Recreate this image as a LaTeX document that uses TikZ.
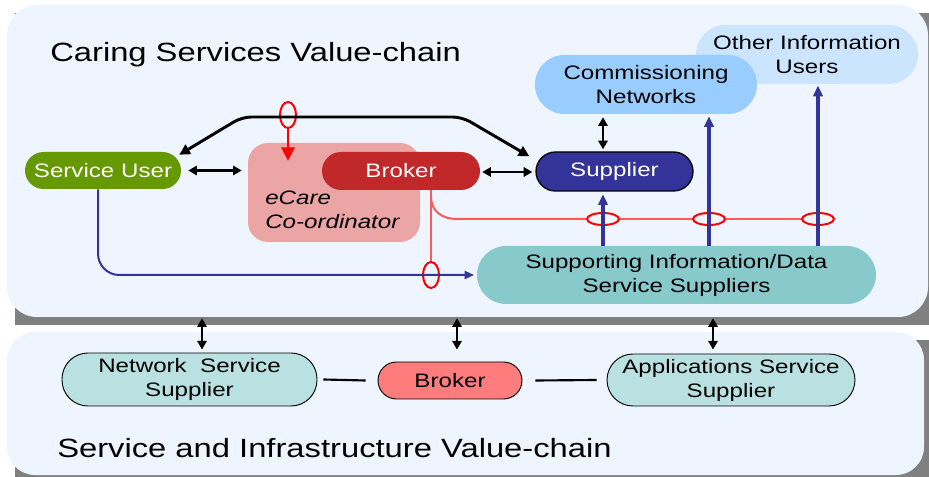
\documentclass[tikz,border=0pt]{standalone}
\usepackage{fontspec}
\setmainfont{Liberation Sans}[FakeStretch=1.24]
\usetikzlibrary{arrows.meta,shapes.geometric,calc}

\definecolor{panelbg}{HTML}{EEF5FE}
\definecolor{shadowgray}{HTML}{808080}
\definecolor{usergreen}{HTML}{669900}
\definecolor{brokerred}{HTML}{C0282A}
\definecolor{ecarepink}{HTML}{ECA5A5}
\definecolor{supplierblue}{HTML}{333399}
\definecolor{commblue}{HTML}{99CCFF}
\definecolor{otherblue}{HTML}{CCE5FF}
\definecolor{supportteal}{HTML}{88CACC}
\definecolor{infrateal}{HTML}{BAE1E1}
\definecolor{brokerpink}{HTML}{FF7C7C}
\definecolor{ringred}{HTML}{FF0000}
\definecolor{linkred}{HTML}{FF5A5A}

\newcommand\boxfont{\fontsize{14.6pt}{18pt}\selectfont}
\newcommand\headfont{\fontsize{19.8pt}{22pt}\selectfont}

\begin{document}
\begin{tikzpicture}[x=0.75pt,y=-0.75pt,
  panel/.style={fill=panelbg, inner sep=0pt},
  pill/.style={rectangle, inner sep=0pt, align=center, font=\boxfont},
  bkarrow/.style={draw=black, line width=1.6pt,
    {Triangle[length=6.5pt,width=7pt]}-{Triangle[length=6.5pt,width=7pt]}},
  bigarrow/.style={draw=black, line width=2.2pt,
    {Triangle[length=8pt,width=8pt]}-{Triangle[length=8pt,width=8pt]}},
  redarrow/.style={draw=ringred, line width=1.8pt,
    -{Triangle[length=10pt,width=10pt]}},
  redline/.style={draw=linkred, line width=1.5pt},
  bluethin/.style={draw=supplierblue, line width=1.5pt,
    -{Triangle[length=7pt,width=6pt]}},
  bluethick/.style={draw=supplierblue, line width=2.4pt,
    -{Triangle[length=8pt,width=7pt]}},
  plainline/.style={draw=black, line width=1.6pt},
  ringv/.style={ellipse, draw=ringred, line width=1.5pt, inner sep=0pt,
    minimum width=12pt, minimum height=19.5pt},
  ringh/.style={ellipse, draw=ringred, line width=1.5pt, inner sep=0pt,
    minimum width=24pt, minimum height=9pt}]
\useasboundingbox (0,0) rectangle (929,477);

% panel shadows
\fill[shadowgray] (15,13) rectangle (936,325);
\fill[shadowgray] (15,340) rectangle (932,483);

% panels
\node[panel, rounded corners=22.5pt, minimum width=690.75pt, minimum height=234pt] (cpanel) at (467.5,161) {};
\node[panel, rounded corners=21pt, minimum width=687.75pt, minimum height=107.25pt] (ipanel) at (465.5,403.5) {};

% headings
\node[anchor=base west, inner sep=0pt, font=\headfont] (chead) at (50,62) {Caring Services Value-chain};
\node[anchor=base west, inner sep=0pt, font=\headfont] (ihead) at (57,457) {Service and Infrastructure Value-chain};

% caring services nodes
\node[pill, fill=otherblue, rounded corners=22pt, minimum width=166.5pt, minimum height=44.25pt] (othr) at (807,54.5) {Other Information\\Users};
\node[pill, fill=commblue, rounded corners=22pt, minimum width=166.5pt, minimum height=44.25pt] (comm) at (646,84.5) {Commissioning\\Networks};
\node[pill, fill=supplierblue, draw=black, line width=1pt, text=white, rounded corners=14.6pt, minimum width=117.75pt, minimum height=29.25pt] (supp) at (614.5,171.5) {Supplier};
\node[rectangle, fill=ecarepink, rounded corners=15pt, minimum width=129pt, minimum height=74.25pt, inner sep=0pt] (ecare) at (334,192.5) {};
\node[anchor=west, align=left, inner sep=0pt, font=\boxfont\itshape] (ecaretxt) at (265,210) {eCare\\Co-ordinator};
\node[pill, fill=brokerred, text=white, rounded corners=14.25pt, minimum width=118.5pt, minimum height=28.5pt] (brok) at (401,171) {Broker};
\node[pill, fill=usergreen, text=white, rounded corners=13.9pt, minimum width=117pt, minimum height=27.75pt] (suser) at (103,170.5) {Service User};
\node[pill, fill=supportteal, rounded corners=21.75pt, minimum width=299.25pt, minimum height=43.5pt] (sisd) at (676.5,275) {Supporting Information/Data\\Service Suppliers};

% infrastructure nodes
\node[pill, fill=infrateal, draw=black, line width=0.7pt, rounded corners=19.5pt, minimum width=191.25pt, minimum height=39.75pt] (nss) at (189.5,379.5) {Network~ Service\\Supplier};
\node[pill, fill=brokerpink, draw=black, line width=0.7pt, rounded corners=13.9pt, minimum width=108pt, minimum height=27.75pt] (brok2) at (450,380.5) {Broker};
\node[pill, fill=infrateal, draw=black, line width=0.7pt, rounded corners=19.5pt, minimum width=186pt, minimum height=39pt] (ass) at (731,380) {Applications Service\\Supplier};

% rings marking monitored flows
\node[ringv] (ell0) at (288,115) {};
\node[ringv] (ell1) at (431,275) {};
\node[ringh] (ell2) at (603,219) {};
\node[ringh] (ell3) at (709,219) {};
\node[ringh] (ell4) at (818,219) {};

% black two-way links
\draw[bkarrow] ($(suser.east)+(7,0)$) -- ($(suser.east -| ecare.west)+(-6,0)$);
\draw[bkarrow] ($(brok.east)+(2,1)$) -- ($(brok.east -| supp.west)+(-3,1)$);
\draw[bkarrow] ($(ell2 |- comm.south)+(0,3)$) -- ($(ell2 |- supp.north)+(0,-2)$);
\coordinate (p1) at (242,117);
\coordinate (p2) at (462,117);
\draw[bigarrow, rounded corners=7pt] ($(suser.north east)+(-2,3)$) -- (p1) -- (p2) -- ($(supp.north west)+(-6,5)$);

% red monitoring links
\draw[redarrow] (ell0.south) -- ($(ell0 |- ecare.north)+(0,18)$);
\draw[redline] (brok.south -| ell1) -- (ell1.north);
\draw[redline] ($(brok.south -| ell1)+(0,6)$) .. controls +(0,16) and +(-14,0) .. ($(ell1 |- ell2)+(26,0)$) -- (ell2.west);
\draw[redline] (ell2.east) -- (ell3.west);
\draw[redline] (ell3.east) -- (ell4.west);

% blue information flows
\coordinate (su0) at ($(suser.south)+(-5,0)$);
\draw[bluethin, rounded corners=16pt, shorten >=2pt] (su0) |- (sisd.west);
\draw[bluethick, shorten >=2pt] (ell2 |- sisd.north) -- (ell2 |- supp.south);
\draw[bluethick, shorten >=1.5pt] (ell3 |- sisd.north) -- (ell3 |- comm.south);
\draw[bluethick, shorten >=1pt] (ell4 |- sisd.north) -- (ell4 |- othr.south);

% links between the two value chains
\coordinate (a1) at (202,0);
\coordinate (a2) at (457,0);
\coordinate (a3) at (713,0);
\draw[bkarrow] ($(a1 |- cpanel.south)+(0,1)$) -- ($(a1 |- nss.north)+(0,-3)$);
\draw[bkarrow] ($(a2 |- cpanel.south)+(0,1)$) -- ($(a2 |- nss.north)+(0,-3)$);
\draw[bkarrow] ($(a3 |- cpanel.south)+(0,1)$) -- ($(a3 |- nss.north)+(0,-3)$);

% infrastructure chain
\draw[plainline] ($(nss.east)+(6,0)$) -- ($(brok2.west)+(-12,0)$);
\draw[plainline] ($(brok2.east)+(13,0)$) -- ($(ass.west)+(-10,0)$);
\end{tikzpicture}
\end{document}
